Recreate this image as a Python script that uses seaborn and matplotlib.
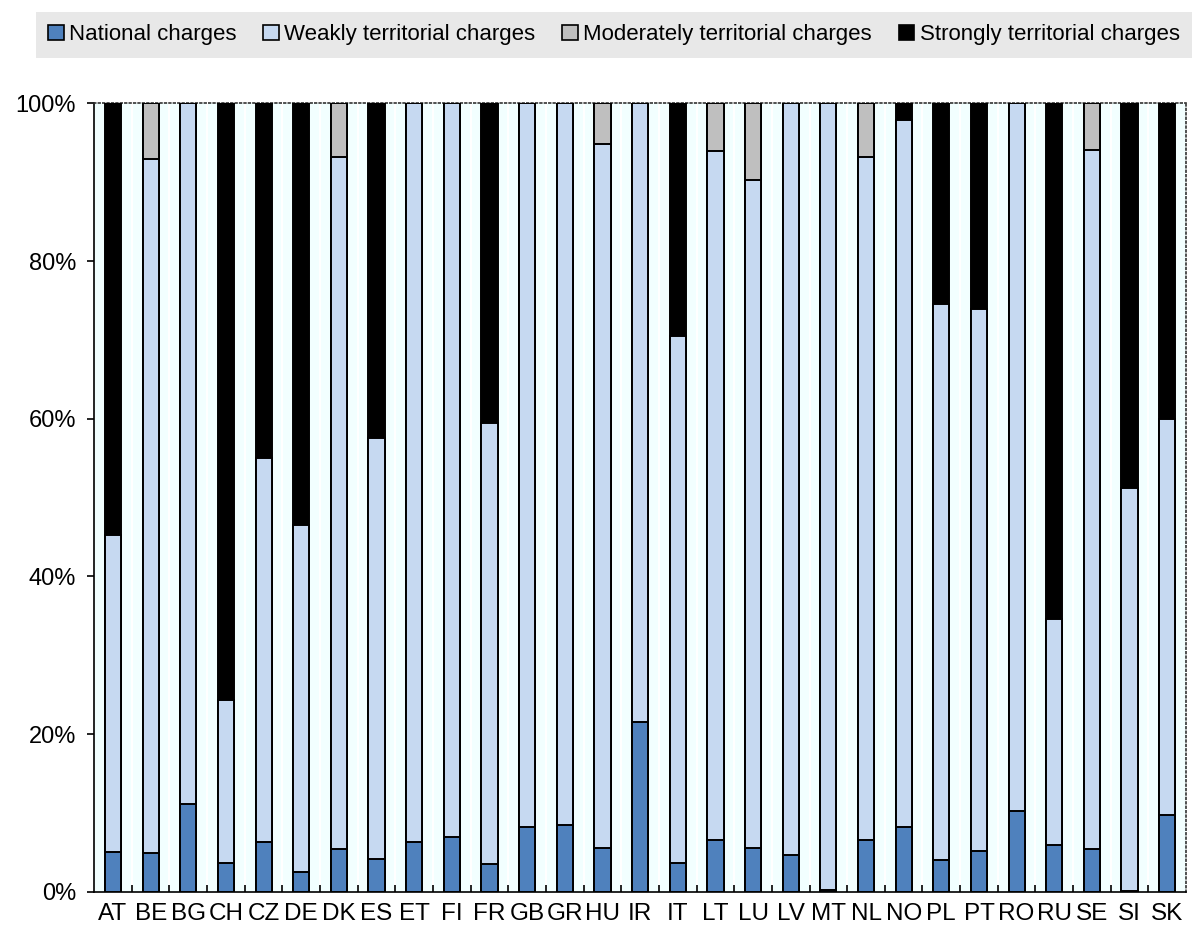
import matplotlib
matplotlib.use('Agg')
import matplotlib.pyplot as plt
import seaborn as sns
import pandas as pd
import numpy as np
from matplotlib.patches import Patch
from matplotlib.ticker import FixedLocator, PercentFormatter

countries = ['AT', 'BE', 'BG', 'CH', 'CZ', 'DE', 'DK', 'ES', 'ET', 'FI',
             'FR', 'GB', 'GR', 'HU', 'IR', 'IT', 'LT', 'LU', 'LV', 'MT',
             'NL', 'NO', 'PL', 'PT', 'RO', 'RU', 'SE', 'SI', 'SK']
national = [5.1, 4.9, 11.1, 3.7, 6.3, 2.5, 5.4, 4.2, 6.3, 7.0,
            3.5, 8.2, 8.5, 5.6, 21.5, 3.7, 6.6, 5.6, 4.7, 0.2,
            6.6, 8.2, 4.0, 5.2, 10.2, 5.9, 5.4, 0.1, 9.7]
weakly = [40.2, 88.1, 88.9, 20.6, 48.7, 44.0, 87.8, 53.4, 93.7, 93.0,
          56.0, 91.8, 91.5, 89.3, 78.5, 66.8, 87.4, 84.7, 95.3, 99.8,
          86.6, 89.7, 70.5, 68.7, 89.8, 28.7, 88.7, 51.1, 50.3]
moderately = [0, 7.0, 0, 0, 0, 0, 6.8, 0, 0, 0,
              0, 0, 0, 5.1, 0, 0, 6.0, 9.7, 0, 0,
              6.8, 0, 0, 0, 0, 0, 5.9, 0, 0]
strongly = [54.7, 0, 0, 75.7, 45.0, 53.5, 0, 42.4, 0, 0,
            40.5, 0, 0, 0, 0, 29.5, 0, 0, 0, 0,
            0, 2.1, 25.5, 26.1, 0, 65.4, 0, 48.8, 40.0]

labels = ['National charges', 'Weakly territorial charges',
          'Moderately territorial charges', 'Strongly territorial charges']
colors = ['#4F81BD', '#C6D9F1', '#BFBFBF', '#000000']

df = pd.DataFrame({'country': countries, 'national': national, 'weakly': weakly,
                   'moderately': moderately, 'strongly': strongly})
# cumulative tops, drawn back to front
df['c1'] = df['national']
df['c2'] = df['c1'] + df['weakly']
df['c3'] = df['c2'] + df['moderately']
df['c4'] = df['c3'] + df['strongly']

plt.rcParams['font.family'] = ['Liberation Sans', 'DejaVu Sans']

fig = plt.figure(figsize=(11.92, 9.31), dpi=100)
ax = fig.add_axes([0.079, 0.042, 0.916, 0.847])
ax.set_facecolor('#F2FFFF')

for col, c in zip(['c4', 'c3', 'c2', 'c1'], colors[::-1]):
    sns.barplot(data=df, x='country', y=col, color=c, width=0.43,
                edgecolor='black', linewidth=1.4, saturation=1, ax=ax, zorder=3)

ax.set_xlim(-0.5, len(countries) - 0.5)
ax.set_ylim(0, 100)
ax.set_xlabel('')
ax.set_ylabel('')
ax.yaxis.set_major_locator(FixedLocator([0, 20, 40, 60, 80, 100]))
ax.yaxis.set_major_formatter(PercentFormatter(decimals=0))

bounds = np.arange(len(countries) - 1) + 0.5
ax.xaxis.set_minor_locator(FixedLocator(bounds))
for b in bounds:
    ax.axvline(b, color='white', lw=1.5, zorder=1)

ax.tick_params(axis='x', which='major', length=0, labelsize=17.5, pad=8)
ax.tick_params(axis='x', which='minor', direction='in', length=5, width=1.2)
ax.tick_params(axis='y', which='major', direction='out', length=5, width=1.2,
               labelsize=17, pad=8)

for s in ['left', 'bottom']:
    ax.spines[s].set_color('black')
    ax.spines[s].set_linewidth(1.2)
for s in ['top', 'right']:
    ax.spines[s].set_color('#333333')
    ax.spines[s].set_linestyle(':')
    ax.spines[s].set_linewidth(1.2)

handles = [Patch(facecolor=c, edgecolor='black', linewidth=1.2) for c in colors]
leg = fig.legend(handles, labels, loc='upper right', bbox_to_anchor=(1.0, 0.987),
                 ncol=4, fontsize=16, frameon=True, fancybox=False,
                 handlelength=0.7, handleheight=0.7, handletextpad=0.25,
                 columnspacing=1.2, borderpad=0.55, borderaxespad=0.0)
leg.get_frame().set_facecolor('#E8E8E8')
leg.get_frame().set_edgecolor('none')
leg.get_frame().set_alpha(1)

fig.savefig('out.png', dpi=100)
